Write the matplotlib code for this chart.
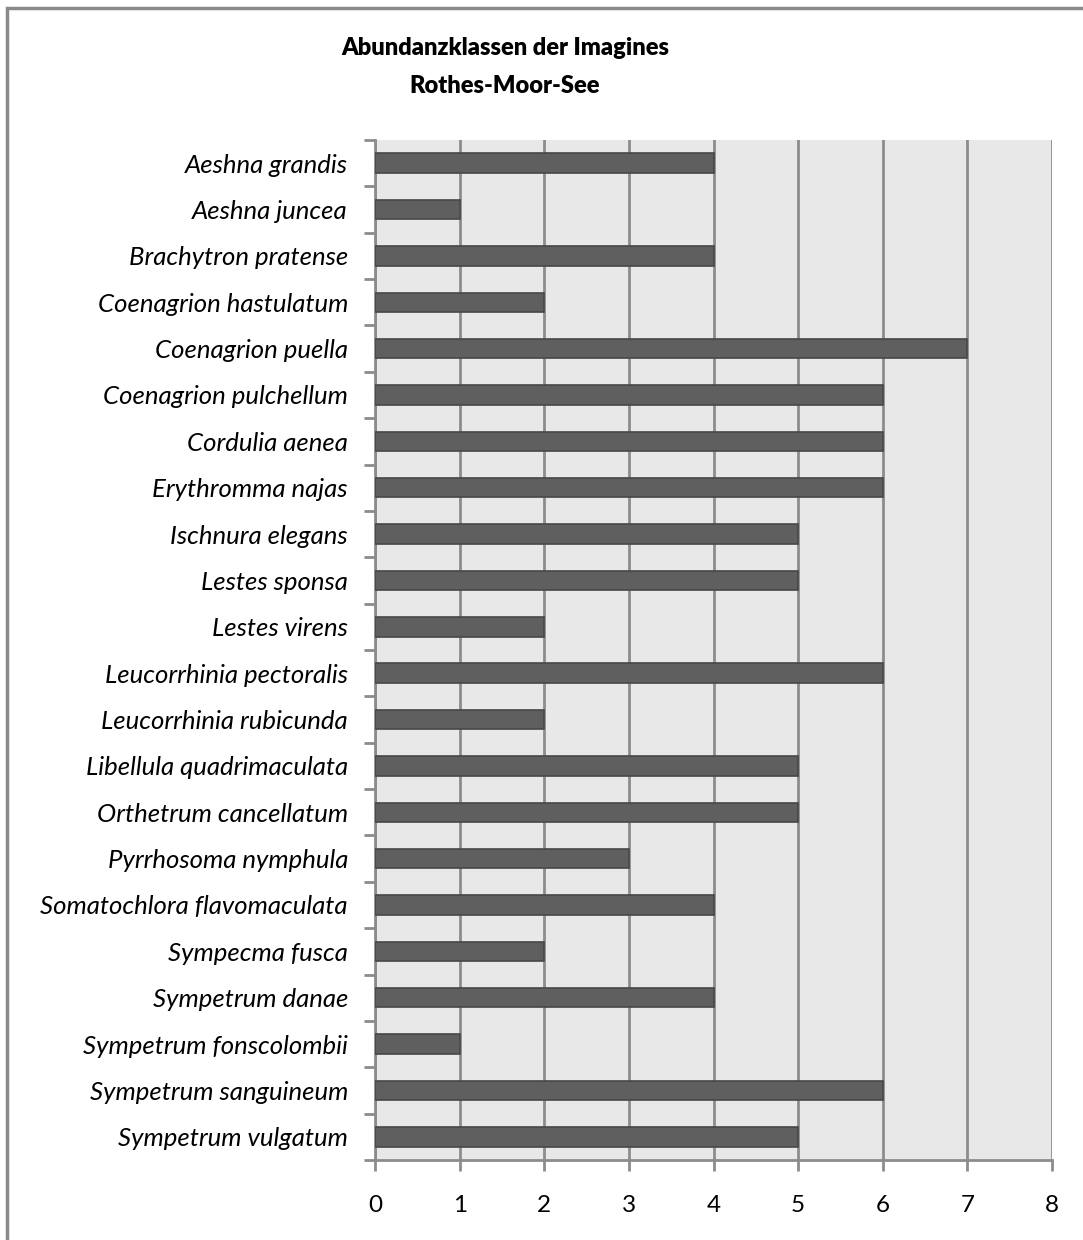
import matplotlib
matplotlib.use("Agg")
import matplotlib.pyplot as plt
from matplotlib.patches import Rectangle
from matplotlib.ticker import FixedLocator, NullFormatter
import numpy as np

plt.rcParams['font.family'] = ['Lato', 'DejaVu Sans']

species = [
    "Aeshna grandis", "Aeshna juncea", "Brachytron pratense",
    "Coenagrion hastulatum", "Coenagrion puella", "Coenagrion pulchellum",
    "Cordulia aenea", "Erythromma najas", "Ischnura elegans",
    "Lestes sponsa", "Lestes virens", "Leucorrhinia pectoralis",
    "Leucorrhinia rubicunda", "Libellula quadrimaculata",
    "Orthetrum cancellatum", "Pyrrhosoma nymphula",
    "Somatochlora flavomaculata", "Sympecma fusca", "Sympetrum danae",
    "Sympetrum fonscolombii", "Sympetrum sanguineum", "Sympetrum vulgatum",
]
abundance = [4, 1, 4, 2, 7, 6, 6, 6, 5, 5, 2, 6, 2, 5, 5, 3, 4, 2, 4, 1, 6, 5]
x_ticks = [0, 1, 2, 3, 4, 5, 6, 7, 8]

W, H = 1083, 1240
fig = plt.figure(figsize=(W / 100, H / 100), dpi=100)

# outer frame of the chart
fig.patches.append(Rectangle((7 / W, -0.01), 1.02, 1 - 8 / H + 0.01,
                             transform=fig.transFigure, fill=False,
                             edgecolor="#8a8a8a", linewidth=2.5))

ax = fig.add_axes([375 / W, 1 - 1160 / H, (1052 - 375) / W, (1160 - 140) / H])
ax.set_facecolor("#e8e8e8")

n = len(species)
y = np.arange(n)
ax.barh(y, abundance, height=0.42, color="#5f5f5f", edgecolor="#474747",
        linewidth=1.2, zorder=3)

ax.set_ylim(n - 0.5, -0.5)
ax.set_xlim(0, 8)
ax.set_xticks(x_ticks)
ax.set_xticklabels([str(t) for t in x_ticks], fontsize=17.5)
ax.set_yticks(y)
ax.set_yticklabels(species, fontsize=18.5, style="italic")
ax.yaxis.set_minor_locator(FixedLocator(np.arange(-0.5, n, 1.0)))
ax.yaxis.set_minor_formatter(NullFormatter())
ax.tick_params(axis="y", which="major", length=0, pad=19.5)
ax.tick_params(axis="y", which="minor", length=8, width=2, color="#8c8c8c",
               direction="out")
ax.tick_params(axis="x", which="major", length=8, width=2, color="#8c8c8c",
               direction="out", pad=17)

ax.grid(axis="x", color="#8c8c8c", linewidth=2, zorder=1)
ax.set_axisbelow(True)
for side in ("top", "right"):
    ax.spines[side].set_visible(False)
for side in ("left", "bottom"):
    ax.spines[side].set_color("#8c8c8c")
    ax.spines[side].set_linewidth(2)

fig.text(505 / W, 1 - 48 / H, "Abundanzklassen der Imagines",
         ha="center", va="center", fontsize=17, fontweight="heavy")
fig.text(505 / W, 1 - 86 / H, "Rothes-Moor-See",
         ha="center", va="center", fontsize=17, fontweight="heavy")

fig.savefig("out.png", dpi=100)
